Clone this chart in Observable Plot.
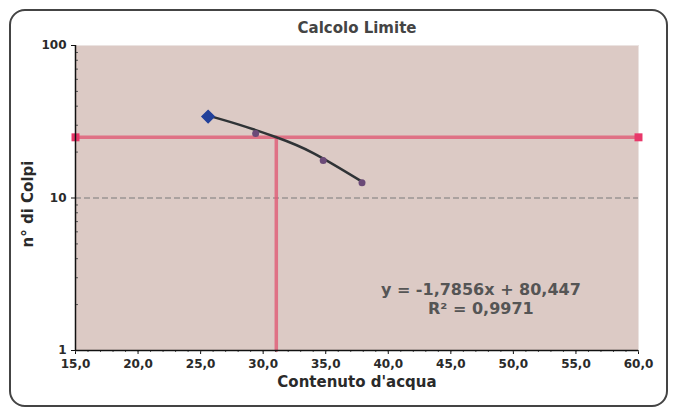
<!DOCTYPE html>
<html>
<head>
<meta charset="utf-8">
<script src="https://cdn.jsdelivr.net/npm/d3@7"></script>
<script src="https://cdn.jsdelivr.net/npm/@observablehq/plot@0.6"></script>
<style>
  html, body { margin: 0; padding: 0; background: #fff; }
  #wrap { position: relative; width: 675px; height: 412px; }
  #box { position: absolute; left: 9px; top: 9px; width: 655px; height: 394px;
         border: 2px solid #444; border-radius: 16px; box-sizing: content-box; pointer-events: none; }
  #wrap svg { position: absolute; left: 0; top: 0; }
</style>
</head>
<body>
<div id="wrap"><div id="box"></div></div>
<script>
// Data
const titleText = "Calcolo Limite";
const xLabel = "Contenuto d'acqua";
const yLabel = "n° di Colpi";
const waterContent = [25.6, 29.4, 34.8, 37.9];
const blows = [34.2, 26.5, 17.6, 12.6];
// trendline as drawn
const trendX = [25.6, 28.0, 31.0, 34.0, 37.9];
const trendY = [34.7, 30.4, 25.1, 19.7, 12.8];
const limitBlows = 25;
const limitX = [15, 60];
const liquidLimit = 31.05;
const xTicks = [15, 20, 25, 30, 35, 40, 45, 50, 55, 60];
const yTicks = [1, 10, 100];
const yMinor = [2,3,4,5,6,7,8,9,20,30,40,50,60,70,80,90];
const xMinor = d3.range(15, 61, 1);
const eqLines = ["y = -1,7856x + 80,447", "R² = 0,9971"];

const pts = waterContent.map((x, i) => ({x, y: blows[i]}));
const trend = trendX.map((x, i) => ({x, y: trendY[i]}));
const hLine = limitX.map(x => ({x, y: limitBlows}));
const vLine = [{x: liquidLimit, y: 1}, {x: liquidLimit, y: limitBlows}];

const fmt = d => d.toFixed(1).replace(".", ",");
const font = "DejaVu Sans, Verdana, sans-serif";

const chart = Plot.plot({
  width: 675, height: 412,
  marginLeft: 75, marginRight: 37, marginTop: 45, marginBottom: 62,
  style: {fontFamily: font, fontSize: "12px", fontWeight: "bold", color: "#2a2a2a", background: "transparent"},
  x: {domain: [15, 60]},
  y: {type: "log", domain: [1, 100]},
  marks: [
    Plot.frame({fill: "#dccac5", stroke: "#ebe3e1"}),
    Plot.ruleY([10], {stroke: "#7a7a7a", strokeDasharray: "6,3", strokeWidth: 1}),
    Plot.line(hLine, {x: "x", y: "y", stroke: "#e05a74", strokeWidth: 3.5, strokeOpacity: 0.8}),
    Plot.dot(hLine, {x: "x", y: "y", symbol: "square", r: 4.5, fill: "#e8386a", stroke: "none"}),
    Plot.line(vLine, {x: "x", y: "y", stroke: "#e05a74", strokeWidth: 3.5, strokeOpacity: 0.8}),
    Plot.line(trend, {x: "x", y: "y", curve: "natural", stroke: "#2f3336", strokeWidth: 2.5}),
    Plot.dot(pts.slice(0,1), {x: "x", y: "y", symbol: "diamond2", r: 5.5, fill: "#22409a", stroke: "#22409a"}),
    Plot.dot(pts.slice(1), {x: "x", y: "y", r: 3.5, fill: "#6b4a78", stroke: "none"}),
    Plot.axisY({ticks: yTicks, tickFormat: d => String(d), tickSize: 4, tickPadding: 5, label: null, stroke: "#111", fontSize: 12}),
    Plot.axisY({ticks: yMinor, tickFormat: () => "", tickSize: -3, label: null, stroke: "#555"}),
    Plot.axisX({ticks: xTicks, tickFormat: fmt, tickSize: 4, tickPadding: 5, label: null, stroke: "#111", fontSize: 12}),
    Plot.axisX({ticks: xMinor, tickFormat: () => "", tickSize: 2, label: null, stroke: "#555"}),
    Plot.ruleX([15], {stroke: "#111", strokeWidth: 1.5}),
    Plot.ruleY([1], {stroke: "#111", strokeWidth: 1.5}),
    Plot.text([titleText], {frameAnchor: "top", dy: -23, fontSize: 15, fontWeight: "bold", fill: "#444"}),
    Plot.text([xLabel], {frameAnchor: "bottom", dy: 36, fontSize: 15, fontWeight: "bold", fill: "#2a2a2a"}),
    Plot.text([yLabel], {frameAnchor: "left", textAnchor: "middle", dx: -47, dy: 6, rotate: -90, fontSize: 15, fontWeight: "bold", fill: "#2a2a2a"}),
    Plot.text([eqLines.join("\n")], {x: 47.4, y: 2.19, fontSize: 16, fontWeight: "bold", fill: "#555", lineHeight: 1.15})
  ]
});
document.getElementById("wrap").appendChild(chart);
</script>
</body>
</html>
